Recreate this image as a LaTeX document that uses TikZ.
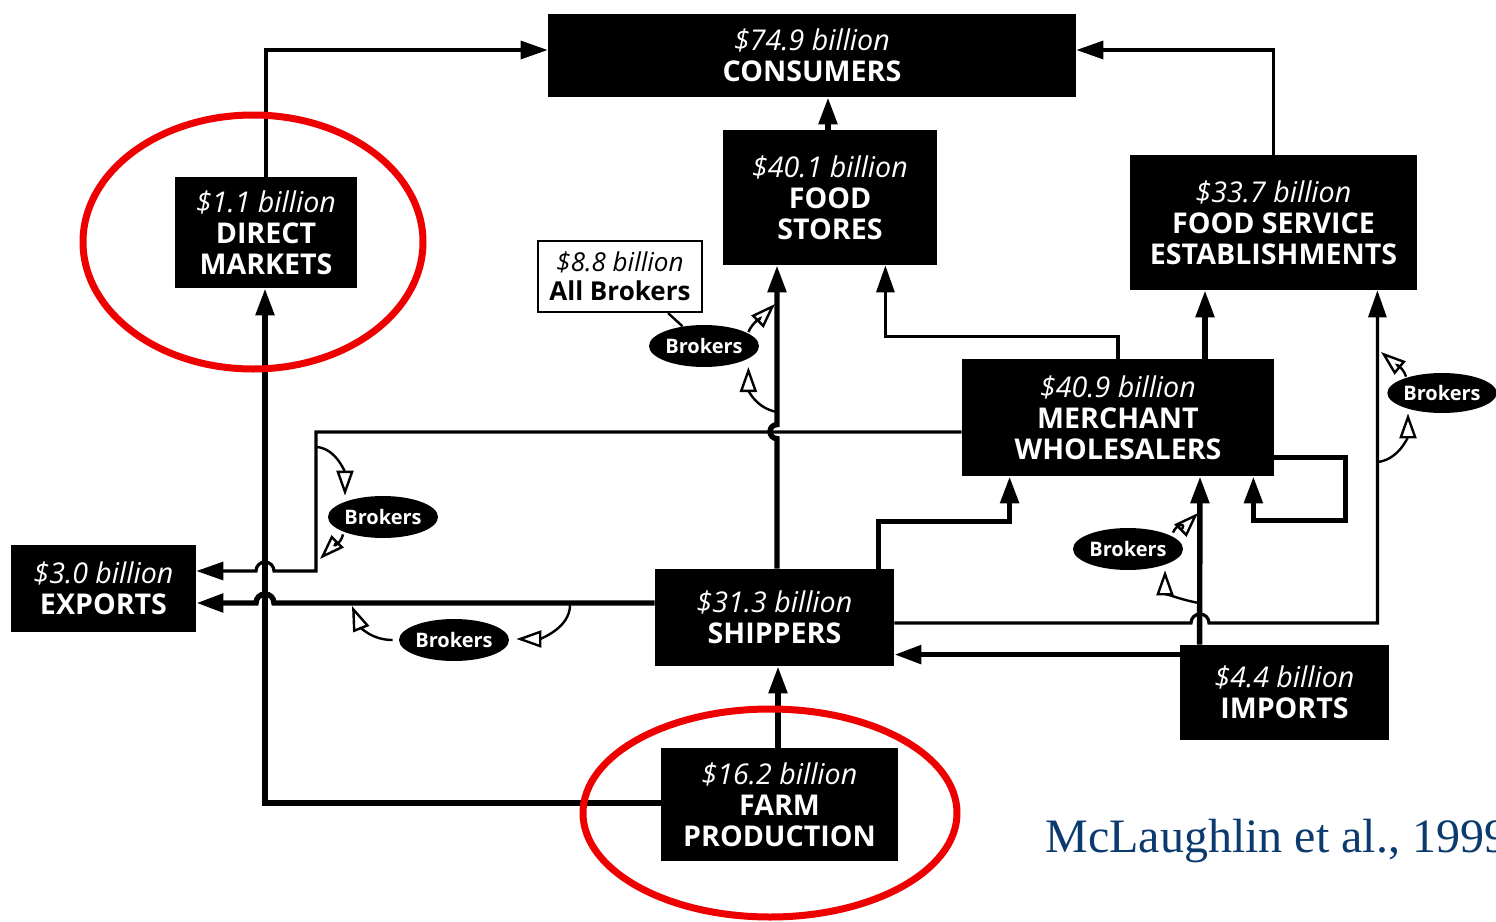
\documentclass[tikz,border=0pt]{standalone}
\usepackage{fontspec}
\setmainfont{Open Sans}
\newfontfamily\citefont{Liberation Serif}
\usetikzlibrary{arrows.meta,calc,shapes.geometric}
\definecolor{citeblue}{HTML}{0B3A6E}
\definecolor{ringred}{RGB}{238,0,0}
\tikzset{
  box/.style={rectangle, fill=black, text=white, inner sep=0pt, align=center, font=\fontsize{14.3}{15.5}\selectfont},
  wbox/.style={rectangle, fill=white, draw=black, line width=1pt, text=black, inner sep=0pt, align=center, font=\fontsize{13}{14.5}\selectfont},
  brk/.style={ellipse, fill=black, text=white, inner sep=0pt, minimum width=55pt, minimum height=21pt, font=\bfseries\fontsize{10}{12}\selectfont},
  thinline/.style={line width=1.6pt, -{Triangle[length=13.5pt,width=9pt]}},
  thickline/.style={line width=2.7pt, -{Triangle[length=13.5pt,width=9pt]}},
  brkarrow/.style={line width=1.2pt, -{Triangle[open,length=12.5pt,width=8.5pt]}},
  ring/.style={draw=ringred, line width=3.5pt},
}
\begin{document}
\begin{tikzpicture}[x=0.5pt,y=-0.5pt]
\useasboundingbox (0,0) rectangle (1496,922);
\clip (0,0) rectangle (1496,922);

% boxes
\node[box, minimum width=264pt, minimum height=41.5pt] (cons) at (812,55.5) {{\itshape \$74.9 billion}\\{\bfseries CONSUMERS}};
\node[box, minimum width=107pt, minimum height=67.5pt] (stores) at (830,197.5) {{\itshape \$40.1 billion}\\{\bfseries FOOD}\\{\bfseries STORES}};
\node[box, minimum width=143.5pt, minimum height=67.5pt] (fs) at (1273.5,222.5) {{\itshape \$33.7 billion}\\{\bfseries FOOD SERVICE}\\{\bfseries ESTABLISHMENTS}};
\node[box, minimum width=91pt, minimum height=55.5pt] (dm) at (266,232.5) {{\itshape \$1.1 billion}\\{\bfseries DIRECT}\\{\bfseries MARKETS}};
\node[wbox, minimum width=82pt, minimum height=35.5pt] (ab) at (620,276.5) {{\itshape \$8.8 billion}\\{\bfseries All Brokers}};
\node[box, minimum width=156pt, minimum height=58.5pt] (mw) at (1118,417.5) {{\itshape \$40.9 billion}\\{\bfseries MERCHANT}\\{\bfseries WHOLESALERS}};
\node[box, minimum width=92.5pt, minimum height=43.5pt] (exp) at (103.5,588.5) {{\itshape \$3.0 billion}\\{\bfseries EXPORTS}};
\node[box, minimum width=119.5pt, minimum height=48.5pt] (ship) at (774.5,617.5) {{\itshape \$31.3 billion}\\{\bfseries SHIPPERS}};
\node[box, minimum width=104.5pt, minimum height=47.5pt] (imp) at (1284.5,692.5) {{\itshape \$4.4 billion}\\{\bfseries IMPORTS}};
\node[box, minimum width=118.5pt, minimum height=56.5pt] (farm) at (779.5,804.5) {{\itshape \$16.2 billion}\\{\bfseries FARM}\\{\bfseries PRODUCTION}};

% brokers ellipses
\node[brk] (bk1) at (704,346) {Brokers};
\node[brk, minimum width=53pt, minimum height=20pt] (bk2) at (1442,393) {Brokers};
\node[brk] (bk3) at (383,517) {Brokers};
\node[brk] (bk4) at (454,640) {Brokers};
\node[brk] (bk5) at (1128,549) {Brokers};

% citation
\node[anchor=base west, inner sep=0pt, text=citeblue, font=\citefont\fontsize{24}{28}\selectfont] (cite) at (1045,852) {McLaughlin et al., 1999};

% connectors to consumers
\draw[thinline] (dm.north) |- ($(cons.west)+(0,-5.5)$);
\draw[thinline] (fs.north) |- ($(cons.east)+(0,-5.5)$);
\draw[thickline] ($(stores.north)+(-2,0)$) -- ($(cons.south)+(16,0)$);

% farm production
\draw[thickline] ($(farm.west)+(0,-1.5)$) -| ($(dm.south)+(-1,0)$);
\draw[thickline] ($(farm.north)+(-1.5,0)$) -- ($(ship.south)+(3.5,0)$);

% shippers to food stores (with hop)
\draw[thickline] ($(ship.north)+(2.5,0)$) -- ++(0,-130) arc[start angle=270,end angle=90,radius=3.5pt] -- ($(stores.south)+(-53,0)$);

% merchant wholesalers to exports (thin, hop)
\draw[thinline] ($(mw.west)+(0,14.5)$) -- (316,432) -- (316,571) -- (274,571) arc[start angle=0,end angle=180,radius=4.5pt] -- ($(exp.east)+(0,-17.5)$);

% shippers to exports (thick, hop)
\draw[thickline] ($(ship.west)+(0,-14.5)$) -- (274,603) arc[start angle=0,end angle=180,radius=4.5pt] -- ($(exp.east)+(0,14.5)$);

% shippers to merchant wholesalers
\draw[thickline] ($(ship.north east)+(-16,0)$) -- ++(0,-47) -| ($(mw.south west)+(48,0)$);

% merchant wholesalers to food stores
\draw[thinline] (mw.north) -- ++(0,-22) -| ($(stores.south east)+(-52,0)$);

% merchant wholesalers to food service
\draw[thickline] ($(mw.north)+(87,0)$) -- ($(fs.south)+(-68.5,0)$);

% merchant wholesalers self loop
\draw[thickline] ($(mw.south east)+(0,-19)$) -- ++(71,0) -- ++(0,63) -| ($(mw.south east)+(-21,0)$);

% imports
\draw[thickline] ($(imp.north west)+(20,0)$) -- ($(mw.south)+(82,0)$);
\draw[thickline] ($(imp.north west)+(0,10)$) -- ($(ship.north east)+(0,86)$);

% shippers to food service (thin, hop)
\draw[thinline] ($(ship.east)+(0,5.5)$) -- (1191,623) arc[start angle=180,end angle=0,radius=4.5pt] -| ($(fs.south east)+(-40,0)$);

% brokers arcs
\coordinate (b1s) at (777,412);
\coordinate (b1e) at (775,304);
\draw[brkarrow] (b1s) .. controls +(-22,-4) and +(0,22) .. ($(bk1.east)+(-11,21)$);
\draw[brkarrow] ($(bk1.east)+(-11,-14)$) .. controls +(4,-10) and +(-10,10) .. (b1e);
\draw[line width=1.2pt] ($(ab.south)+(48,0)$) -- (bk1);

\coordinate (b2s) at (1378,462);
\coordinate (b2e) at (1381,352);
\draw[brkarrow] (b2s) .. controls +(22,-3) and +(0,22) .. ($(bk2.south)+(-34,0)$);
\draw[brkarrow] ($(bk2.north)+(-36,4)$) .. controls +(-3,-10) and +(12,10) .. (b2e);

\coordinate (b3s) at (317,447);
\coordinate (b3e) at (320,559);
\draw[brkarrow] (b3s) .. controls +(20,2) and +(0,-22) .. ($(bk3.north)+(-38,0)$);
\draw[brkarrow] ($(bk3.south)+(-40,-4)$) .. controls +(-2,10) and +(10,-10) .. (b3e);

\coordinate (b4s) at (570,605);
\coordinate (b4e) at (352,606);
\draw[brkarrow] (b4s) .. controls +(0,24) and +(22,0) .. ($(bk4.east)+(7,-1)$);
\draw[brkarrow] ($(bk4.west)+(-6,0)$) .. controls +(-22,0) and +(8,20) .. (b4e);

\coordinate (b5s) at (1199,603);
\coordinate (b5e) at (1198,513);
\draw[brkarrow] (b5s) .. controls +(-22,-4) and +(0,22) .. ($(bk5.south)+(37,0)$);
\draw[brkarrow] ($(bk5.north)+(45,5)$) .. controls +(4,-10) and +(-10,10) .. (b5e);

% red rings
\draw[ring] (253,242) ellipse [x radius=85pt, y radius=63.5pt];
\draw[ring] (770,813) ellipse [x radius=93.5pt, y radius=52pt];
\end{tikzpicture}
\end{document}
